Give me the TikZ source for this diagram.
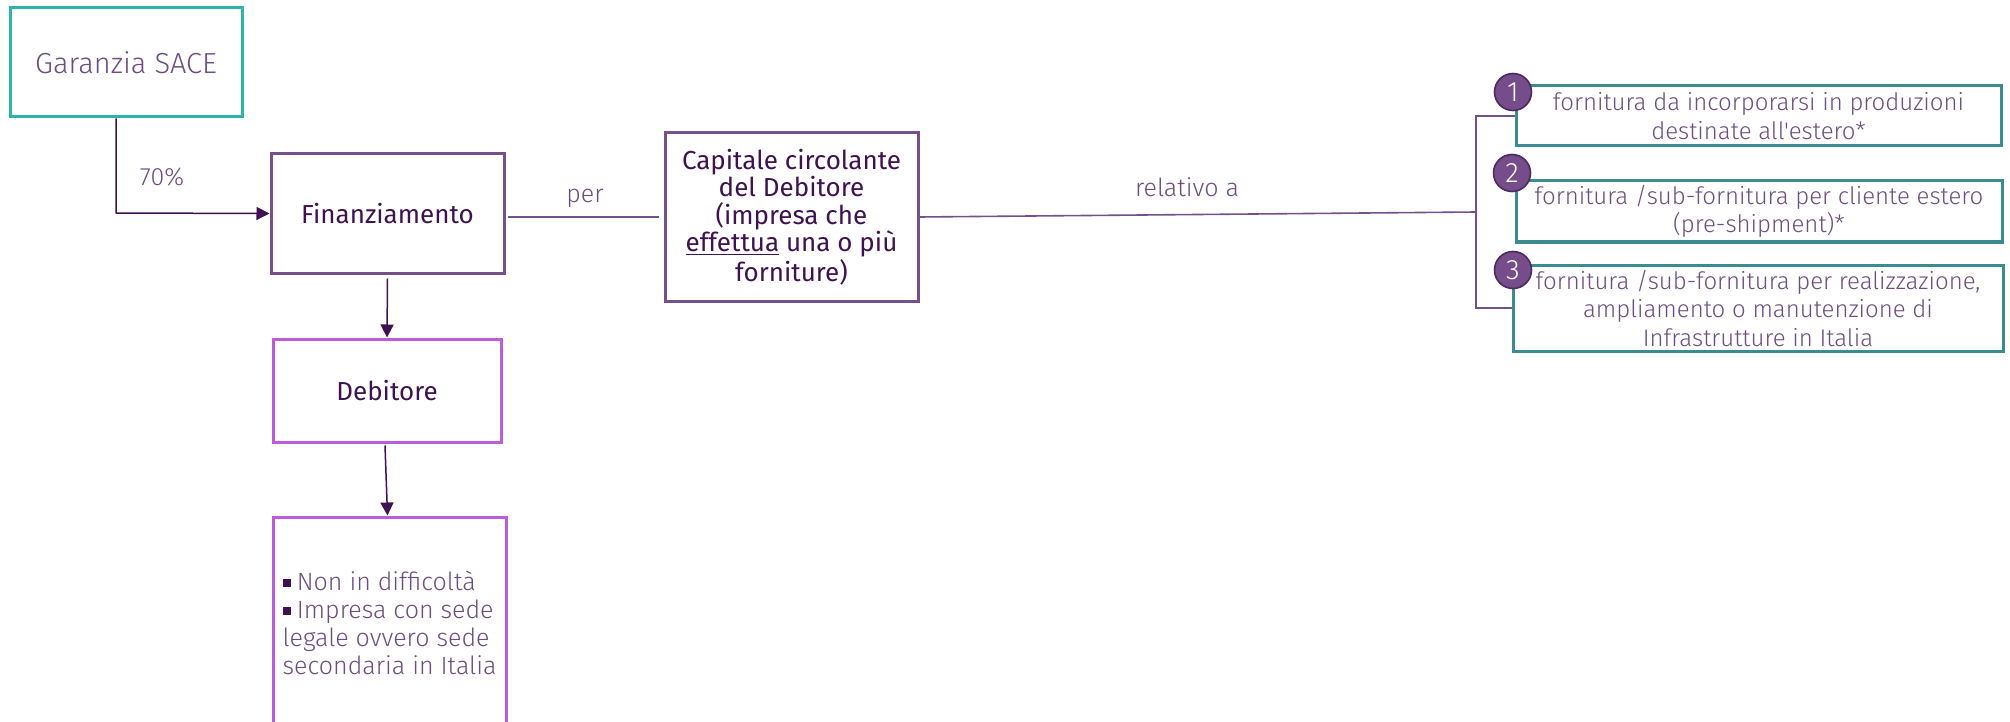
\documentclass[tikz,border=0pt]{standalone}
\usepackage{fontspec}
\setmainfont{Fira Sans Light}[Ligatures=TeXOff]
\newfontfamily\regfont{Fira Sans}[Ligatures=TeXOff]
\usetikzlibrary{arrows.meta}
\definecolor{tealA}{HTML}{2DB3AE}
\definecolor{tealB}{HTML}{3A8C91}
\definecolor{purpB}{HTML}{75508A}
\definecolor{violet}{HTML}{BC5BDC}
\definecolor{darkP}{HTML}{3E1150}
\definecolor{lightT}{HTML}{6D4D80}
\definecolor{circF}{HTML}{764C8A}
\definecolor{circB}{HTML}{4B2A5E}
\tikzset{
  box/.style={draw, line width=1.5pt, rectangle, inner sep=0pt, align=center},
  lighttxt/.style={text=lightT, font=\fontsize{13}{14}\selectfont},
  darktxt/.style={text=darkP, font=\regfont\fontsize{13}{14}\selectfont},
  conn/.style={draw=darkP, line width=0.75pt, -{Triangle[length=6.5pt,width=6.5pt]}},
  plainline/.style={draw=purpB, line width=0.8pt},
  numc/.style={circle, fill=circF, draw=circB, line width=0.8pt, minimum size=18.5pt, inner sep=0pt, text=white, font=\fontsize{14}{15}\selectfont},
  lbl/.style={text=lightT, font=\fontsize{12.5}{14}\selectfont, inner sep=0pt}
}
\newcommand{\bsq}{\textcolor{darkP}{\rule[0.15em]{0.32em}{0.32em}}\hspace{0.25em}}
\begin{document}
\begin{tikzpicture}[x=0.5pt,y=-0.5pt]
\useasboundingbox (0,0) rectangle (2010,722);
\clip (0,0) rectangle (2010,722);
% boxes
\node[box, draw=tealA, minimum width=116pt, minimum height=54.5pt, text=lightT, font=\fontsize{14.5}{16}\selectfont] (gar) at (126,62.5) {Garanzia SACE};
\node[box, draw=purpB, minimum width=116.5pt, minimum height=59.5pt, darktxt] (fin) at (387.5,213.5) {Finanziamento};
\node[box, draw=violet, minimum width=114pt, minimum height=51.5pt, darktxt] (deb) at (387,390.5) {Debitore};
\node[box, draw=violet, minimum width=116.5pt, minimum height=106pt, lighttxt, align=left, font=\fontsize{12.5}{14}\selectfont] (req) at (389.5,623) {\bsq Non in difficoltà\\\bsq Impresa con sede\\legale ovvero sede\\secondaria in Italia};
\node[box, draw=purpB, minimum width=126.5pt, minimum height=84pt, text=darkP, font=\regfont\fontsize{13}{13.75}\selectfont] (cap) at (791.5,217) {Capitale circolante\\del Debitore\\(impresa che\\\underline{effettua} una o più\\forniture)};
\node[box, draw=tealB, minimum width=242.5pt, minimum height=30pt, lighttxt, font=\fontsize{12}{14.25}\selectfont] (b1) at (1758.5,116) {fornitura da incorporarsi in produzioni\\destinate all'estero*};
\node[box, draw=tealB, minimum width=243pt, minimum height=30.5pt, lighttxt, font=\fontsize{12}{14.25}\selectfont] (b2) at (1759,211.5) {fornitura /sub-fornitura per cliente estero\\(pre-shipment)*};
\node[box, draw=tealB, minimum width=245pt, minimum height=43pt, lighttxt, font=\fontsize{12}{14.25}\selectfont] (b3) at (1758,308) {fornitura /sub-fornitura per realizzazione,\\ampliamento o manutenzione di\\Infrastrutture in Italia};
\node[numc] (n1) at (1513,92) {1};
\node[numc] (n2) at (1512,173) {2};
\node[numc] (n3) at (1513,270) {3};
% labels
\node[lbl] (l70) at (162,177) {70\%};
\node[lbl] (lper) at (585,198) {per};
\node[lbl] (lrel) at (1187,187) {relativo a};
% connectors
\coordinate (gbend) at (116,213);
\draw[conn] (gar.south -| gbend) -- (gbend) -- (fin.west);
\draw[conn] ([yshift=-2pt]fin.south) -- (deb.north);
\draw[conn] ([yshift=-1pt,xshift=-1pt]deb.south) -- ([xshift=-1pt]req.north);
\draw[plainline] ([xshift=1pt]fin.east |- cap.west) -- ([xshift=-2.5pt]cap.west);
\coordinate (brmid) at (1476,212);
\draw[plainline] (cap.east) -- (brmid);
\draw[plainline] (b1.west) -- (b1.west -| brmid) -- (b3.west -| brmid) -- (b3.west);
\end{tikzpicture}
\end{document}
